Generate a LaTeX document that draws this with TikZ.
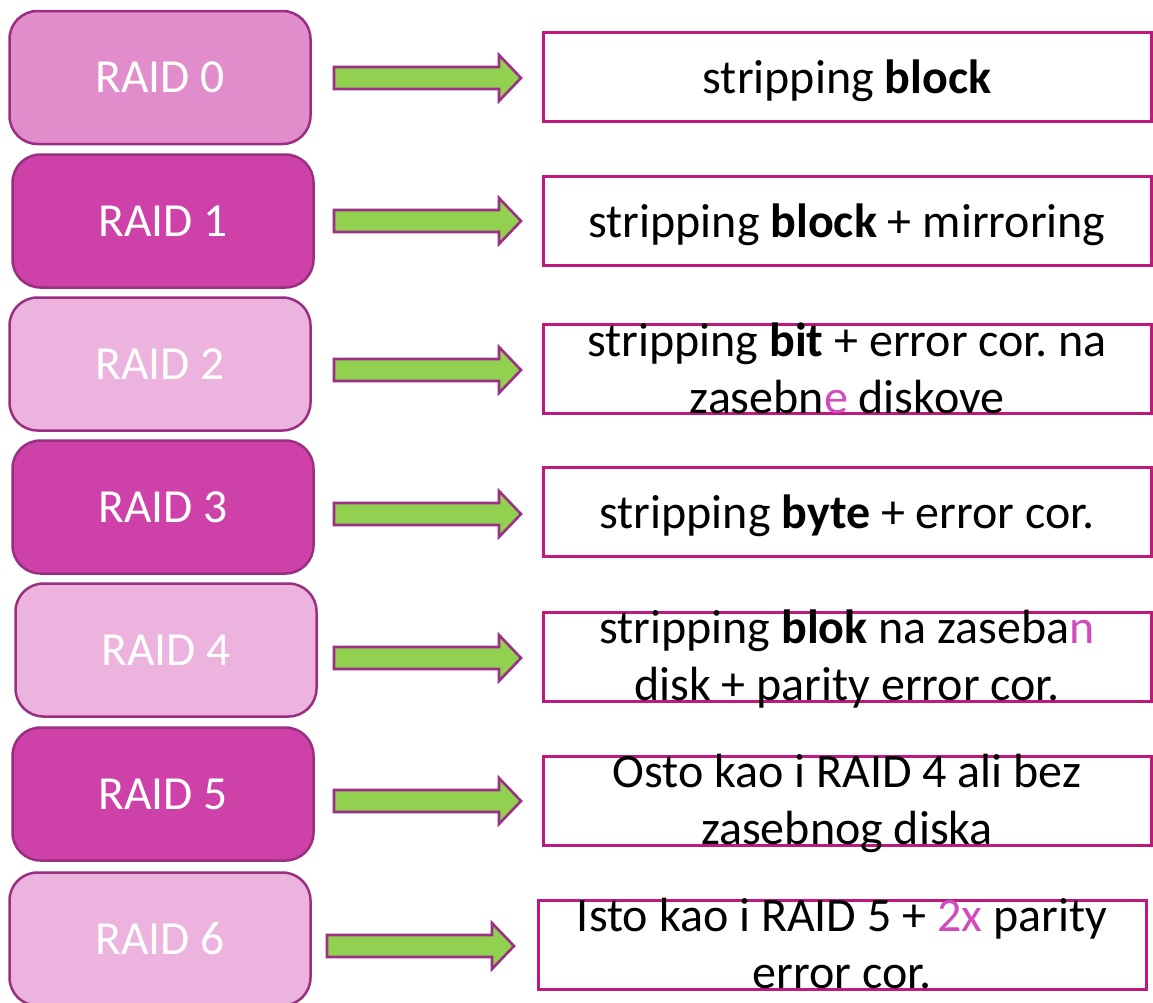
\documentclass[tikz,border=0pt]{standalone}
\usepackage{fontspec}
\setmainfont{Carlito}
\usetikzlibrary{calc}
\definecolor{lightA}{HTML}{E18DCB}
\definecolor{lightB}{HTML}{EBB3DE}
\definecolor{darkM}{HTML}{CD41A9}
\definecolor{edgeL}{HTML}{9A2E80}
\definecolor{edgeR}{HTML}{C0197D}
\definecolor{arrG}{HTML}{92D050}
\definecolor{arrE}{HTML}{9B3184}
\definecolor{hl}{HTML}{D04BBE}
\frenchspacing
\tikzset{
  raid/.style={draw=edgeL, line width=2.5pt, rounded corners=28pt,
    minimum width=301pt, minimum height=133pt, inner sep=0pt,
    text=white, font=\fontsize{47.5}{57}\selectfont},
  descbox/.style={draw=edgeR, line width=3pt, fill=white,
    minimum width=608pt, minimum height=89pt, inner sep=0pt},
  desc/.style={inner sep=0pt, align=center, anchor=base,
    font=\fontsize{48}{57}\selectfont},
  blockarr/.style={draw=arrE, line width=2.6pt, fill=arrG, line join=miter}
}
\newcommand{\blockarrow}[2]{%
  \draw[blockarr] ($(#1)+(0,-11)$) -- ($(#2)+(-22,-11)$) -- ($(#2)+(-22,-23)$)
    -- (#2) -- ($(#2)+(-22,23)$) -- ($(#2)+(-22,11)$) -- ($(#1)+(0,11)$) -- cycle;}
\begin{document}
\begin{tikzpicture}[x=1pt,y=-1pt]
\useasboundingbox (0,0) rectangle (1153,1002);
\clip (0,0) rectangle (1153,1002);
\fill[white] (0,0) rectangle (1153,1002);
% left boxes
\node[raid, fill=lightA] (L0) at (160,77.5) {RAID 0};
\node[raid, fill=darkM]  (L1) at (163,221) {RAID 1};
\node[raid, fill=lightB] (L2) at (160,364) {RAID 2};
\node[raid, fill=darkM]  (L3) at (163,507) {RAID 3};
\node[raid, fill=lightB] (L4) at (166,650) {RAID 4};
\node[raid, fill=darkM]  (L5) at (163,794) {RAID 5};
\node[raid, fill=lightB] (L6) at (160,939) {RAID 6};
% right boxes
\node[descbox] (R0) at (847,77) {};
\node[descbox] (R1) at (847,220.5) {};
\node[descbox] (R2) at (847,369) {};
\node[descbox] (R3) at (847,512) {};
\node[descbox] (R4) at (847,656.5) {};
\node[descbox] (R5) at (847,800.5) {};
\node[descbox] (R6) at (842,944.5) {};
% texts
\node[desc] (T0) at ($(R0.center)+(0,16.5)$) {stripping \textbf{block}};
\node[desc] (T1) at ($(R1.center)+(0,16.5)$) {stripping \textbf{block} + mirroring};
\node[desc] (T2) at ($(R2.center)+(0,44)$) {stripping \textbf{bit} + error cor. na\\zasebn\textcolor{hl}{e} diskove};
\node[desc] (T3) at ($(R3.center)+(0,16.5)$) {stripping \textbf{byte} + error cor.};
\node[desc] (T4) at ($(R4.center)+(0,44)$) {stripping \textbf{blok} na zaseba\textcolor{hl}{n}\\disk + parity error cor.};
\node[desc] (T5) at ($(R5.center)+(0,44)$) {Osto kao i RAID 4 ali bez\\zasebnog diska};
\node[desc] (T6) at ($(R6.center)+(0,44)$) {Isto kao i RAID 5 + \textcolor{hl}{2x} parity\\error cor.};
% arrows
\coordinate (a0) at (334,78);  \coordinate (b0) at (521,78);
\coordinate (a1) at (334,221); \coordinate (b1) at (521,221);
\coordinate (a2) at (334,370); \coordinate (b2) at (521,370);
\coordinate (a3) at (334,514); \coordinate (b3) at (521,514);
\coordinate (a4) at (334,658); \coordinate (b4) at (521,658);
\coordinate (a5) at (334,801); \coordinate (b5) at (521,801);
\coordinate (a6) at (327,946); \coordinate (b6) at (514,946);
\blockarrow{a0}{b0}
\blockarrow{a1}{b1}
\blockarrow{a2}{b2}
\blockarrow{a3}{b3}
\blockarrow{a4}{b4}
\blockarrow{a5}{b5}
\blockarrow{a6}{b6}
\end{tikzpicture}
\end{document}
